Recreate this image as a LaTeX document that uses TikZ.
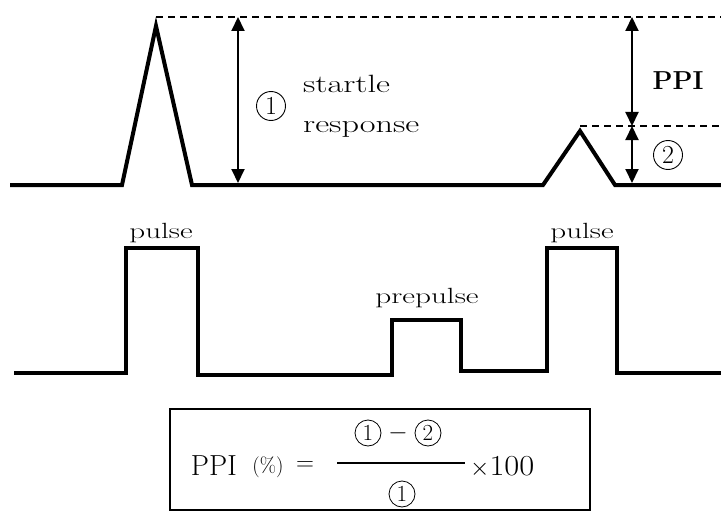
\documentclass[tikz,border=0pt]{standalone}
\usetikzlibrary{arrows.meta}
\begin{document}
\begin{tikzpicture}[x=1pt,y=-1pt,
  trace/.style={line width=4pt, line join=miter},
  dim/.style={line width=2pt, {Triangle[length=14pt,width=13pt]}-{Triangle[length=14pt,width=13pt]}},
  guide/.style={line width=1.3pt, dash pattern=on 7pt off 5pt},
  lab/.style={font=\fontsize{25}{30}\selectfont, inner sep=0pt},
  plab/.style={font=\fontsize{22}{26}\selectfont, inner sep=0pt, anchor=base},
  circ/.style={draw, circle, minimum size=29pt, inner sep=0pt, line width=0.9pt, font=\fontsize{26}{26}\selectfont},
  scirc/.style={draw, circle, minimum size=26pt, inner sep=0pt, line width=0.8pt, font=\fontsize{23}{23}\selectfont},
  fm/.style={font=\fontsize{29}{32}\selectfont, inner sep=0pt}]
\useasboundingbox (0,0) rectangle (721,511);

% response trace
\coordinate (a0) at (10,185);
\coordinate (a1) at (122,185);
\coordinate (pk1) at (156,26);
\coordinate (a2) at (192,185);
\coordinate (a3) at (543,185);
\coordinate (pk2) at (580,131);
\coordinate (a4) at (615,185);
\coordinate (a5) at (721,185);
\draw[trace] (a0) -- (a1) -- (pk1) -- (a2) -- (a3) -- (pk2) -- (a4) -- (a5);

% guides
\coordinate (t1) at (156,17);
\coordinate (t1e) at (721,17);
\coordinate (t2) at (580,126);
\coordinate (t2e) at (721,126);
\draw[guide] (t1) -- (t1e);
\draw[guide] (t2) -- (t2e);

% dimension arrows
\coordinate (d1a) at (238,17);
\coordinate (d1b) at (238,183);
\coordinate (d2a) at (632,17);
\coordinate (d2b) at (632,126);
\coordinate (d2c) at (632,183);
\draw[dim] (d1a) -- (d1b);
\draw[dim] (d2a) -- (d2b);
\draw[dim] (d2b) -- (d2c);

% labels top
\node[circ] (c1) at (271,106) {1};
\node[lab, anchor=base west] (st) at (303,93) {\scalebox{1.37}[1]{startle}};
\node[lab, anchor=base west] (rs) at (303,132) {\scalebox{1.37}[1]{response}};
\node[font=\bfseries\fontsize{26}{30}\selectfont, anchor=base, inner sep=0pt] (ppi) at (678,90) {PPI};
\node[circ] (c2) at (668,155) {2};

% stimulus trace
\draw[trace] (14,373) -- (126,373) -- (126,248) -- (198,248) -- (198,375) -- (392,375)
  -- (392,320) -- (461,320) -- (461,371) -- (547,371) -- (547,248) -- (617,248) -- (617,373) -- (721,373);

\node[plab] (p1) at (161,238) {\scalebox{1.41}[1]{pulse}};
\node[plab] (pp) at (427,303) {\scalebox{1.42}[1]{prepulse}};
\node[plab] (p2) at (582,238) {\scalebox{1.41}[1]{pulse}};

% formula box
\draw[line width=2pt] (170,409) rectangle (590,510);
\node[fm, anchor=base east] (fppi) at (237,475) {PPI};
\node[font=\fontsize{21}{21}\selectfont, anchor=base, inner sep=0pt] (pc) at (268,472) {(\%)};
\node[fm] (eq) at (305,466) {$=$};
\coordinate (fb1) at (337,463);
\coordinate (fb2) at (465,463);
\draw[line width=1.5pt] (fb1) -- (fb2);
\node[scirc] (n1) at (368,433) {1};
\node[fm] (nm) at (398,433) {$-$};
\node[scirc] (n2) at (428,433) {2};
\node[scirc] (d1) at (402,494) {1};
\node[fm, anchor=base west] (x100) at (470,475) {$\times$\scalebox{1.12}[1]{100}};
\end{tikzpicture}
\end{document}
